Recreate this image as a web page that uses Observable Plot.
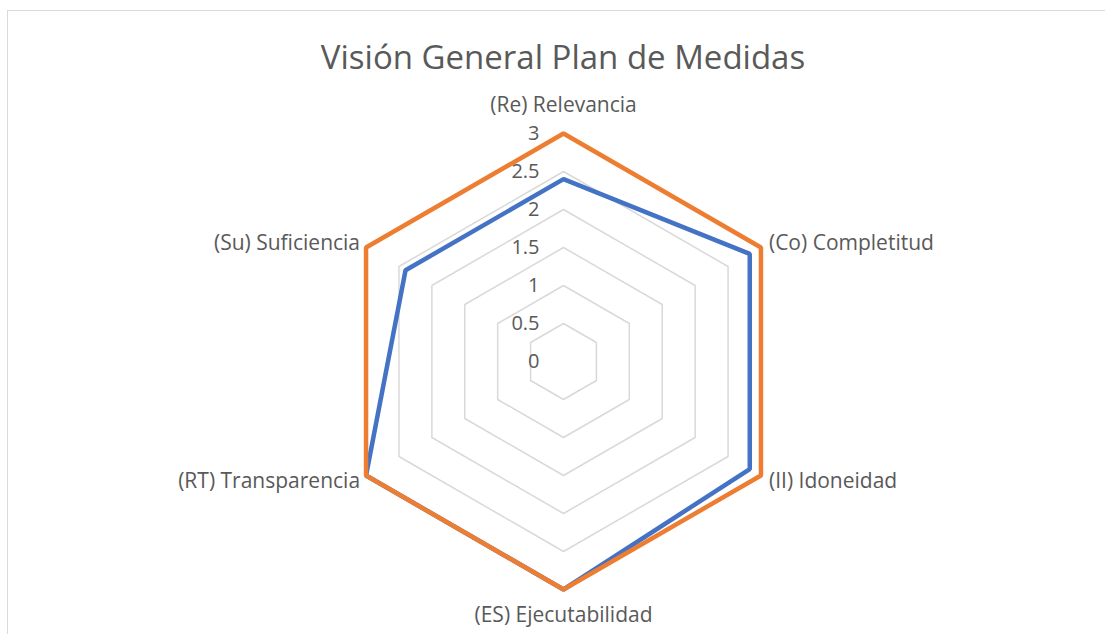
<!DOCTYPE html>
<html><head><meta charset="utf-8">
<script src="https://cdn.jsdelivr.net/npm/d3@7"></script>
<script src="https://cdn.jsdelivr.net/npm/@observablehq/plot@0.6"></script>
<style>
body{margin:0;background:#fff;}
#chart{position:relative;width:1105px;height:634px;overflow:hidden;background:#fff;}
#chart svg{position:absolute;left:0;top:0;background:transparent;}
#border{position:absolute;left:7px;top:10px;width:1200px;height:800px;border:1.5px solid #d9d9d9;pointer-events:none;z-index:2;}
</style></head><body><div id="chart"><div id="border"></div></div>
<script>
const title = "Visión General Plan de Medidas";
const categories = ["(Re) Relevancia","(Co) Completitud","(II) Idoneidad","(ES) Ejecutabilidad","(RT) Transparencia","(Su) Suficiencia"];
const seriesNames = ["Actual", "Máximo"];
const actualValues = [2.4, 2.83, 2.83, 3, 3, 2.4];
const maxValues = [3, 3, 3, 3, 3, 3];
const ringTicks = [0, 0.5, 1, 1.5, 2, 2.5, 3];

const FONT = "'Open Sans', Lato, sans-serif";
const TXT = "#595959";
const n = categories.length;
const ang = i => (i * 2 * Math.PI) / n;
const px = (i, r) => r * Math.sin(ang(i));
const py = (i, r) => r * Math.cos(ang(i));

const seriesRows = [];
[[seriesNames[0], actualValues], [seriesNames[1], maxValues]].forEach(([s, vals]) => {
  vals.forEach((v, i) => seriesRows.push({series: s, i, value: v}));
});
const gridRows = [];
ringTicks.filter(t => t > 0).forEach(t => categories.forEach((c, i) => gridRows.push({t, i})));
const labelRows = categories.map((c, i) => ({c, i}));

function labelMark(filter, anchor, dx, dy) {
  return Plot.text(labelRows.filter(filter), {
    x: d => px(d.i, 3), y: d => py(d.i, 3), text: d => d.c,
    textAnchor: anchor, dx, dy, fontSize: 21, fill: TXT, fontFamily: FONT
  });
}

const R = 228, CX = 563, CY = 361;
const chart = Plot.plot({
  width: 1105, height: 634,
  marginTop: 0, marginRight: 0, marginBottom: 0, marginLeft: 0,
  x: {domain: [-3, 3], range: [CX - R, CX + R], axis: null},
  y: {domain: [-3, 3], range: [CY + R, CY - R], axis: null},
  style: {fontFamily: FONT, background: "transparent"},
  marks: [
    Plot.line(gridRows, {x: d => px(d.i, d.t), y: d => py(d.i, d.t), z: "t", curve: "linear-closed", stroke: "#d9d9d9", strokeWidth: 1.5, strokeLinejoin: "miter"}),
    Plot.line(seriesRows, {x: d => px(d.i, d.value), y: d => py(d.i, d.value), z: "series",
      stroke: d => d.series, curve: "linear-closed", strokeWidth: 4.5, strokeLinejoin: "miter", strokeLinecap: "butt"}),
    Plot.text(ringTicks, {x: () => 0, y: d => d, text: d => String(d), textAnchor: "end", dx: -24, fontSize: 20, fill: TXT, fontFamily: FONT}),
    labelMark(d => d.i === 0, "middle", 0, -28),
    labelMark(d => d.i === 3, "middle", 0, 26),
    labelMark(d => d.i === 1, "start", 8, -4),
    labelMark(d => d.i === 2, "start", 8, 6),
    labelMark(d => d.i === 4, "end", -6, 6),
    labelMark(d => d.i === 5, "end", -6, -4),
    Plot.text([title], {frameAnchor: "top", dx: 10, dy: 45, text: d => d, fontSize: 33, fill: TXT, fontFamily: FONT})
  ],
  color: {domain: seriesNames, range: ["#4472C4", "#ED7D31"]}
});
document.getElementById("chart").appendChild(chart);
</script></body></html>
